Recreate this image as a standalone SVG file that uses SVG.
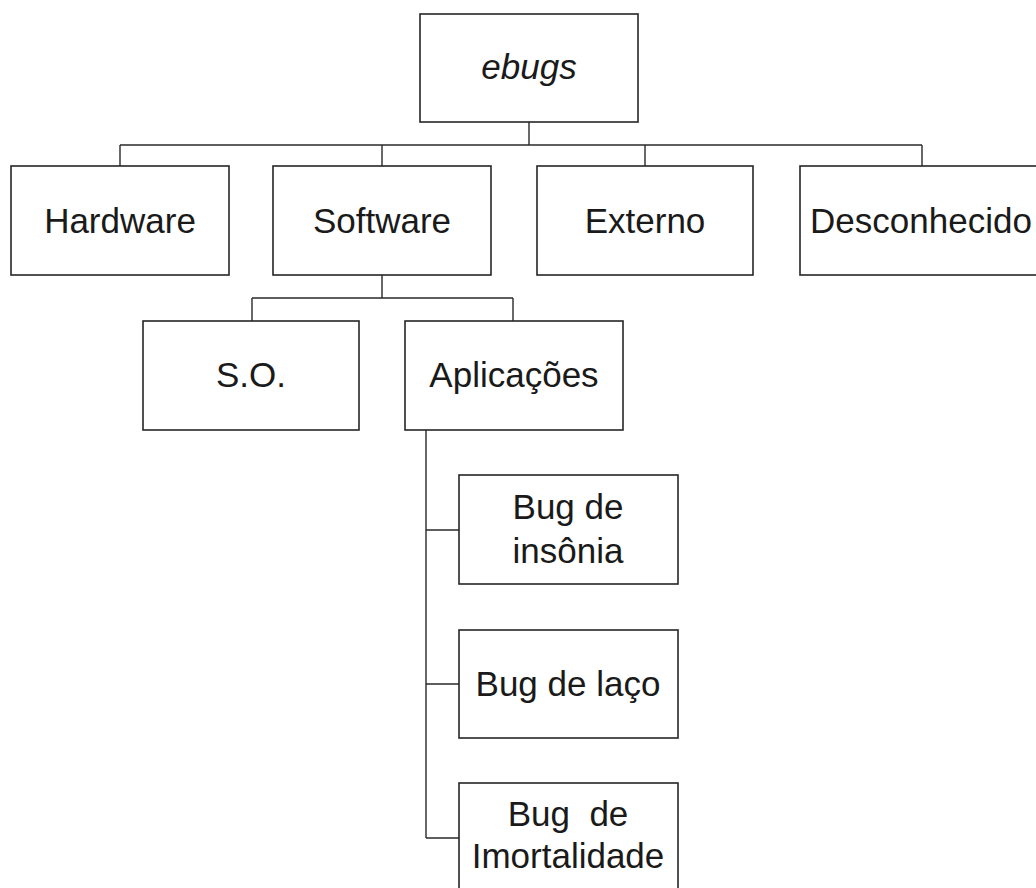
<svg xmlns="http://www.w3.org/2000/svg" width="1036" height="888" viewBox="0 0 1036 888">
<style>
.box{fill:#fff;stroke:#262626;stroke-width:1.6}
.lbl{font-family:"Liberation Sans",Arial,sans-serif;font-size:35px;fill:#1a1a1a;text-anchor:middle}
.it{font-style:italic}
.con{fill:none;stroke:#2a2a2a;stroke-width:1.4}
</style>
<rect width="1036" height="888" fill="#fff"/>
<g id="connectors">
<path class="con" d="M529,122V145M120,145H922M120,145V166M382,145V166M645,145V166M922,145V166"/>
<path class="con" d="M382,275V298M252,298H513M252,298V321M513,298V321"/>
<path class="con" d="M426,430V838M426,530H459M426,684H459M426,838H459"/>
</g>
<g id="ebugs"><rect class="box" x="420" y="14" width="218" height="108"/><text class="lbl it" x="529" y="79">ebugs</text></g>
<g id="hardware"><rect class="box" x="11" y="166" width="218" height="109"/><text class="lbl" x="120" y="233">Hardware</text></g>
<g id="software"><rect class="box" x="273" y="166" width="218" height="109"/><text class="lbl" x="382" y="233">Software</text></g>
<g id="externo"><rect class="box" x="537" y="166" width="216" height="109"/><text class="lbl" x="645" y="233">Externo</text></g>
<g id="desconhecido"><rect class="box" x="800" y="166" width="250" height="109"/><text class="lbl" x="921" y="233">Desconhecido</text></g>
<g id="so"><rect class="box" x="143" y="321" width="216" height="109"/><text class="lbl" x="251" y="387">S.O.</text></g>
<g id="aplicacoes"><rect class="box" x="405" y="321" width="218" height="109"/><text class="lbl" x="514" y="387">Aplicações</text></g>
<g id="bug-insonia"><rect class="box" x="459" y="475" width="219" height="109"/><text class="lbl" x="568" y="519">Bug de</text><text class="lbl" x="568" y="563">insônia</text></g>
<g id="bug-laco"><rect class="box" x="459" y="630" width="219" height="108"/><text class="lbl" x="568" y="696">Bug de laço</text></g>
<g id="bug-imortalidade"><rect class="box" x="459" y="783" width="219" height="120"/><text class="lbl" x="568" y="826" style="white-space:pre">Bug  de</text><text class="lbl" x="568" y="868">Imortalidade</text></g>
</svg>
